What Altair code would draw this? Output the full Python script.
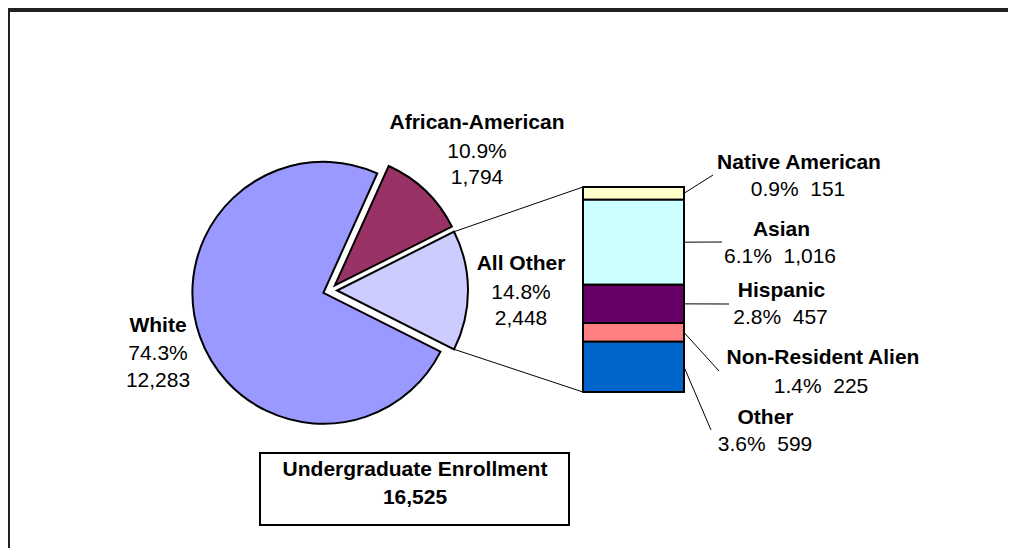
import math
import altair as alt
import pandas as pd

# ---------------- data ----------------
pie_categories = ["African-American", "All Other", "White"]
pie_values = [1794, 2448, 12283]

sub_categories = ["Native American", "Asian", "Hispanic", "Non-Resident Alien", "Other"]
sub_values = [151, 1016, 457, 225, 599]

box_title = "Undergraduate Enrollment"

color_domain = pie_categories + sub_categories
color_range = ["#993366", "#CCCCFF", "#9999FF",
               "#FFFFCC", "#CCFFFF", "#660066", "#FF8080", "#0066CC"]

# ---------------- layout (chart pixel coordinates) ----------------
W, H = 1000, 540
CX, CY, R, EXPLODE = 322, 282.5, 131, 7
BAR_X0, BAR_X1, BAR_TOP, BAR_BOT = 575, 676, 179, 384
FONT = "Liberation Sans"
FS = 21

pie_label_pos = {  # x, [y lines]
    "African-American": (469, [115.2, 144.2, 170.2]),
    "All Other": (513, [256.2, 284.9, 310.7]),
    "White": (150, [318.2, 346.2, 373.2]),
}
sub_label_pos = {  # name x, name y, value x, value y, leader end x, leader end y
    "Native American": (791, 155.2, 790, 182.0, 705, 167),
    "Asian": (773.5, 221.5, 772, 249.2, 714, 234),
    "Hispanic": (773.5, 283.2, 772.5, 310.2, 721, 296),
    "Non-Resident Alien": (815, 350.2, 813, 378.5, 711, 363),
    "Other": (757.5, 409.5, 757, 436.9, 703, 422),
}
BOX = (252, 561, 445, 517)
BOX_TEXT_X, BOX_TEXT_Y = 407, [461.9, 489.9]

# ---------------- derived tables ----------------
total = sum(pie_values)
sub_total = sum(sub_values)
two_pi = 2 * math.pi
a0 = math.pi / 2 - two_pi * (pie_values[0] + pie_values[1] / 2) / total

pie_rows = []
cum = 0
for c, v in zip(pie_categories, pie_values):
    start, end = cum, cum + v
    mid = a0 + two_pi * (start + end) / 2 / total
    pie_rows.append(dict(category=c, value=v, start=start, end=end,
                         cx=CX + EXPLODE * math.sin(mid),
                         cy=CY - EXPLODE * math.cos(mid)))
    cum = end
pie_df = pd.DataFrame(pie_rows)

color_scale = alt.Scale(domain=color_domain, range=color_range)

pie = alt.Chart(pie_df).mark_arc(radius=R, stroke="black", strokeWidth=2).encode(
    theta=alt.Theta("start:Q", stack=None,
                    scale=alt.Scale(domain=[0, total], range=[a0, a0 + two_pi])),
    theta2="end:Q",
    x=alt.X("cx:Q", scale=None, axis=None),
    y=alt.Y("cy:Q", scale=None, axis=None),
    color=alt.Color("category:N", scale=color_scale, legend=None),
)

# connector lines from the "All Other" slice to the bar
ao = pie_rows[1]
ts = a0 + two_pi * ao["start"] / total
te = a0 + two_pi * ao["end"] / total
conn_df = pd.DataFrame([
    dict(x=ao["cx"] + R * math.sin(ts), y=ao["cy"] - R * math.cos(ts), x2=BAR_X0, y2=BAR_TOP),
    dict(x=ao["cx"] + R * math.sin(te), y=ao["cy"] - R * math.cos(te), x2=BAR_X0, y2=BAR_BOT),
])
rule_enc = dict(
    x=alt.X("x:Q", scale=None, axis=None), y=alt.Y("y:Q", scale=None, axis=None),
    x2="x2:Q", y2="y2:Q",
)
connectors = alt.Chart(conn_df).mark_rule(color="black", strokeWidth=1).encode(**rule_enc)

# stacked bar (bottom-up order is the reverse of the listing)
n = len(sub_categories)
bar_df = pd.DataFrame(dict(category=sub_categories, value=sub_values,
                           ord=[n - 1 - i for i in range(n)], grp="All Other"))
bar = alt.Chart(bar_df).mark_bar(stroke="black", strokeWidth=2).encode(
    x=alt.X("grp:N", scale=alt.Scale(range=[BAR_X0, BAR_X1], paddingInner=0, paddingOuter=0), axis=None),
    y=alt.Y("value:Q", stack="zero",
            scale=alt.Scale(domain=[0, sub_total], range=[BAR_BOT, BAR_TOP], nice=False), axis=None),
    color=alt.Color("category:N", scale=color_scale, legend=None),
    order=alt.Order("ord:Q"),
)


def ypix(v):
    return BAR_BOT - v / sub_total * (BAR_BOT - BAR_TOP)


lead_rows = []
cum = 0
for c, v in reversed(list(zip(sub_categories, sub_values))):
    mid = cum + v / 2
    p = sub_label_pos[c]
    lead_rows.append(dict(x=BAR_X1, y=ypix(mid), x2=p[4], y2=p[5]))
    cum += v
leaders = alt.Chart(pd.DataFrame(lead_rows)).mark_rule(color="black", strokeWidth=1).encode(**rule_enc)

# text labels
bold_rows, reg_rows = [], []
for c, v in zip(pie_categories, pie_values):
    x, ys = pie_label_pos[c]
    bold_rows.append(dict(x=x, y=ys[0], t=c))
    reg_rows.append(dict(x=x, y=ys[1], t=f"{v / total * 100:.1f}%"))
    reg_rows.append(dict(x=x, y=ys[2], t=f"{v:,}"))
for c, v in zip(sub_categories, sub_values):
    p = sub_label_pos[c]
    bold_rows.append(dict(x=p[0], y=p[1], t=c))
    reg_rows.append(dict(x=p[2], y=p[3], t=f"{v / total * 100:.1f}%\u00a0 {v:,}"))
bold_rows.append(dict(x=BOX_TEXT_X, y=BOX_TEXT_Y[0], t=box_title))
bold_rows.append(dict(x=BOX_TEXT_X, y=BOX_TEXT_Y[1], t=f"{total:,}"))

txt_enc = dict(x=alt.X("x:Q", scale=None, axis=None), y=alt.Y("y:Q", scale=None, axis=None), text="t:N")
bold_text = alt.Chart(pd.DataFrame(bold_rows)).mark_text(
    font=FONT, fontSize=FS, fontWeight="bold", align="center", baseline="middle", color="black"
).encode(**txt_enc)
reg_text = alt.Chart(pd.DataFrame(reg_rows)).mark_text(
    font=FONT, fontSize=FS, align="center", baseline="middle", color="black"
).encode(**txt_enc)

one = pd.DataFrame({"a": [0]})
box = alt.Chart(one).mark_rect(fill="white", stroke="black", strokeWidth=2).encode(
    x=alt.value(BOX[0]), x2=alt.value(BOX[1]), y=alt.value(BOX[2]), y2=alt.value(BOX[3])
)
frame_top = alt.Chart(one).mark_rect(color="#231F20").encode(
    x=alt.value(0), x2=alt.value(W), y=alt.value(0), y2=alt.value(4)
)
frame_left = alt.Chart(one).mark_rect(color="#231F20").encode(
    x=alt.value(0), x2=alt.value(2), y=alt.value(0), y2=alt.value(H)
)

chart = alt.layer(
    frame_top, frame_left, connectors, pie, bar, leaders, box, bold_text, reg_text
).resolve_scale(
    x="independent", y="independent", theta="independent"
).properties(
    width=W, height=H, autosize=alt.AutoSizeParams(type="none"), padding=0,
    background="white",
).configure_view(stroke=None)

chart.save("out.html", embed_options={"renderer": "svg", "actions": False})
